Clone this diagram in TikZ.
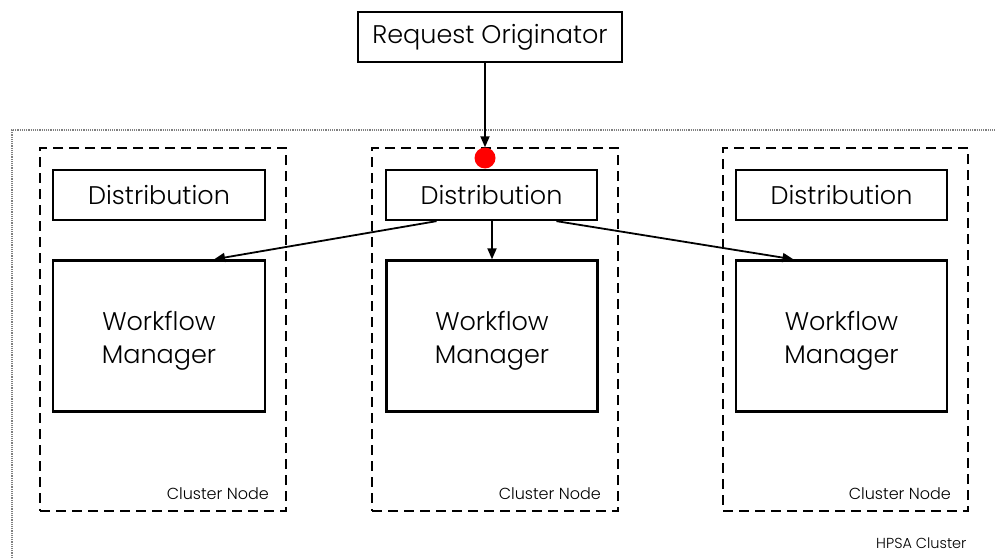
\documentclass[tikz,border=0pt]{standalone}
\usepackage{fontspec}
\setmainfont{Poppins}[UprightFont=* Light]
\usetikzlibrary{arrows.meta}
\begin{document}
\begin{tikzpicture}[x=1pt, y=-1pt, line join=miter,
  box/.style={draw, line width=2.3pt, inner sep=0pt, font=\fontsize{25.5}{33}\selectfont, align=center},
  cnode/.style={draw, line width=2.8pt, dash pattern=on 10pt off 6pt, minimum width=246pt, minimum height=363pt, inner sep=0pt},
  small/.style={font=\fontsize{16}{18}\selectfont},
  arr/.style={-{Triangle[length=11pt, width=9pt]}, line width=1.8pt}]
\useasboundingbox (0,0) rectangle (995,559);
\begin{scope}
\clip (0,0) rectangle (995,559);
\draw[gray, densely dotted, line width=1.2pt] (12,580) -- (12,130) -- (1010,130);
\end{scope}
\path
  (163,329.5) node[cnode] (cl) {}
  (495,329.5) node[cnode] (cm) {}
  (845.5,329.5) node[cnode, minimum width=245pt] (cr) {}
  (490,37) node[box, minimum width=264pt, minimum height=50pt] (ro) {Request Originator}
  (159,195) node[box, minimum width=212pt, minimum height=50pt] (dl) {Distribution}
  (491.5,195) node[box, minimum width=211pt, minimum height=50pt] (dm) {Distribution}
  (841.5,195) node[box, minimum width=211pt, minimum height=50pt] (dr) {Distribution}
  (159,336) node[box, minimum width=212pt, minimum height=151pt] (wl) {\\[-4pt]Workflow\\Manager}
  (492,336) node[box, minimum width=211pt, minimum height=151pt] (wm) {\\[-4pt]Workflow\\Manager}
  (841.5,336) node[box, minimum width=211pt, minimum height=151pt] (wr) {\\[-4pt]Workflow\\Manager}
  (485,158) node[circle, fill=red, minimum size=21pt, inner sep=0pt] (dot) {};
% labels
\node[small, anchor=base east] (lcl) at ([shift={(-15,-13)}]cl.south east) {Cluster Node};
\node[small, anchor=base east] (lcm) at ([shift={(-15,-13)}]cm.south east) {Cluster Node};
\node[small, anchor=base east] (lcr) at ([shift={(-15,-13)}]cr.south east) {Cluster Node};
\node[small, anchor=base east, font=\fontsize{14.5}{16}\selectfont] (hpsa) at (970,548) {HPSA Cluster};
% arrows
\draw[arr] (ro.south -| dot.north) -- (dot.north);
\draw[arr] ([xshift=-55pt]dm.south) -- ([xshift=55pt]wl.north);
\draw[arr] (dm.south -| wm.north) -- (wm.north);
\draw[arr] ([xshift=65pt]dm.south) -- ([xshift=-48pt]wr.north);
\end{tikzpicture}
\end{document}
